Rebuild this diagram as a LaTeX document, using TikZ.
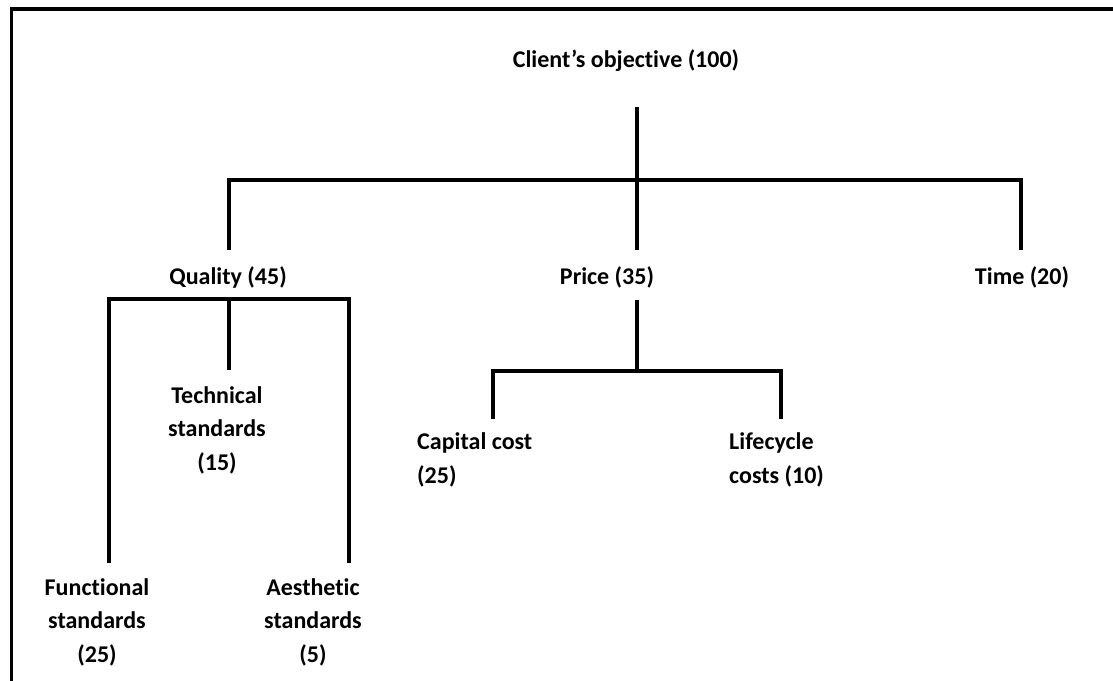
\documentclass[tikz,border=0pt]{standalone}
\usepackage{fontspec}
\setmainfont[Ligatures=NoCommon]{Carlito}
\usepackage{tikz}

\begin{document}
\begin{tikzpicture}[x=1pt, y=-1pt,
  lbl/.style={inner sep=0pt, align=center, font=\fontsize{24}{33.5}\selectfont\bfseries},
  lbll/.style={lbl, align=left, anchor=west},
  bar/.style={line width=3.6pt}]
  \useasboundingbox (0,0) rectangle (1113,680);
  \draw[bar] (11.3,690) -- (11.3,9) -- (1120,9);
  \node[lbl] (client) at (626,61) {Client’s objective (100)};
  \node[lbl] (quality) at (228,277) {Quality (45)};
  \node[lbl] (price) at (607,277) {Price (35)};
  \node[lbl] (time) at (1022,277) {Time (20)};
  \node[lbl] (technical) at (217,430) {Technical\\standards\\(15)};
  \node[lbl] (functional) at (97,622) {Functional\\standards\\(25)};
  \node[lbl] (aesthetic) at (313,622) {Aesthetic\\standards\\(5)};
  \node[lbll] (capital) at (417,460) {Capital cost\\(25)};
  \node[lbll] (lifecycle) at (729,460) {Lifecycle\\costs (10)};
  \coordinate (ctop) at (637,107);
  \coordinate (csplit) at (637,180);
  \coordinate (qend) at (229,250);
  \coordinate (pend) at (637,250);
  \coordinate (tend) at (1021,250);
  \coordinate (qsplit) at (229,299);
  \coordinate (tsend) at (229,370);
  \coordinate (fsend) at (109,563);
  \coordinate (asend) at (349,563);
  \coordinate (pstart) at (637,300);
  \coordinate (psplit) at (637,371);
  \coordinate (ccend) at (493,419);
  \coordinate (lcend) at (781,419);
  \draw[bar] (ctop) -- (pend);
  \draw[bar] (qend) |- (csplit) -| (tend);
  \draw[bar] (fsend) |- (qsplit) -| (asend);
  \draw[bar] (qsplit) -- (tsend);
  \draw[bar] (pstart) -- (psplit);
  \draw[bar] (ccend) |- (psplit) -| (lcend);
\end{tikzpicture}
\end{document}
